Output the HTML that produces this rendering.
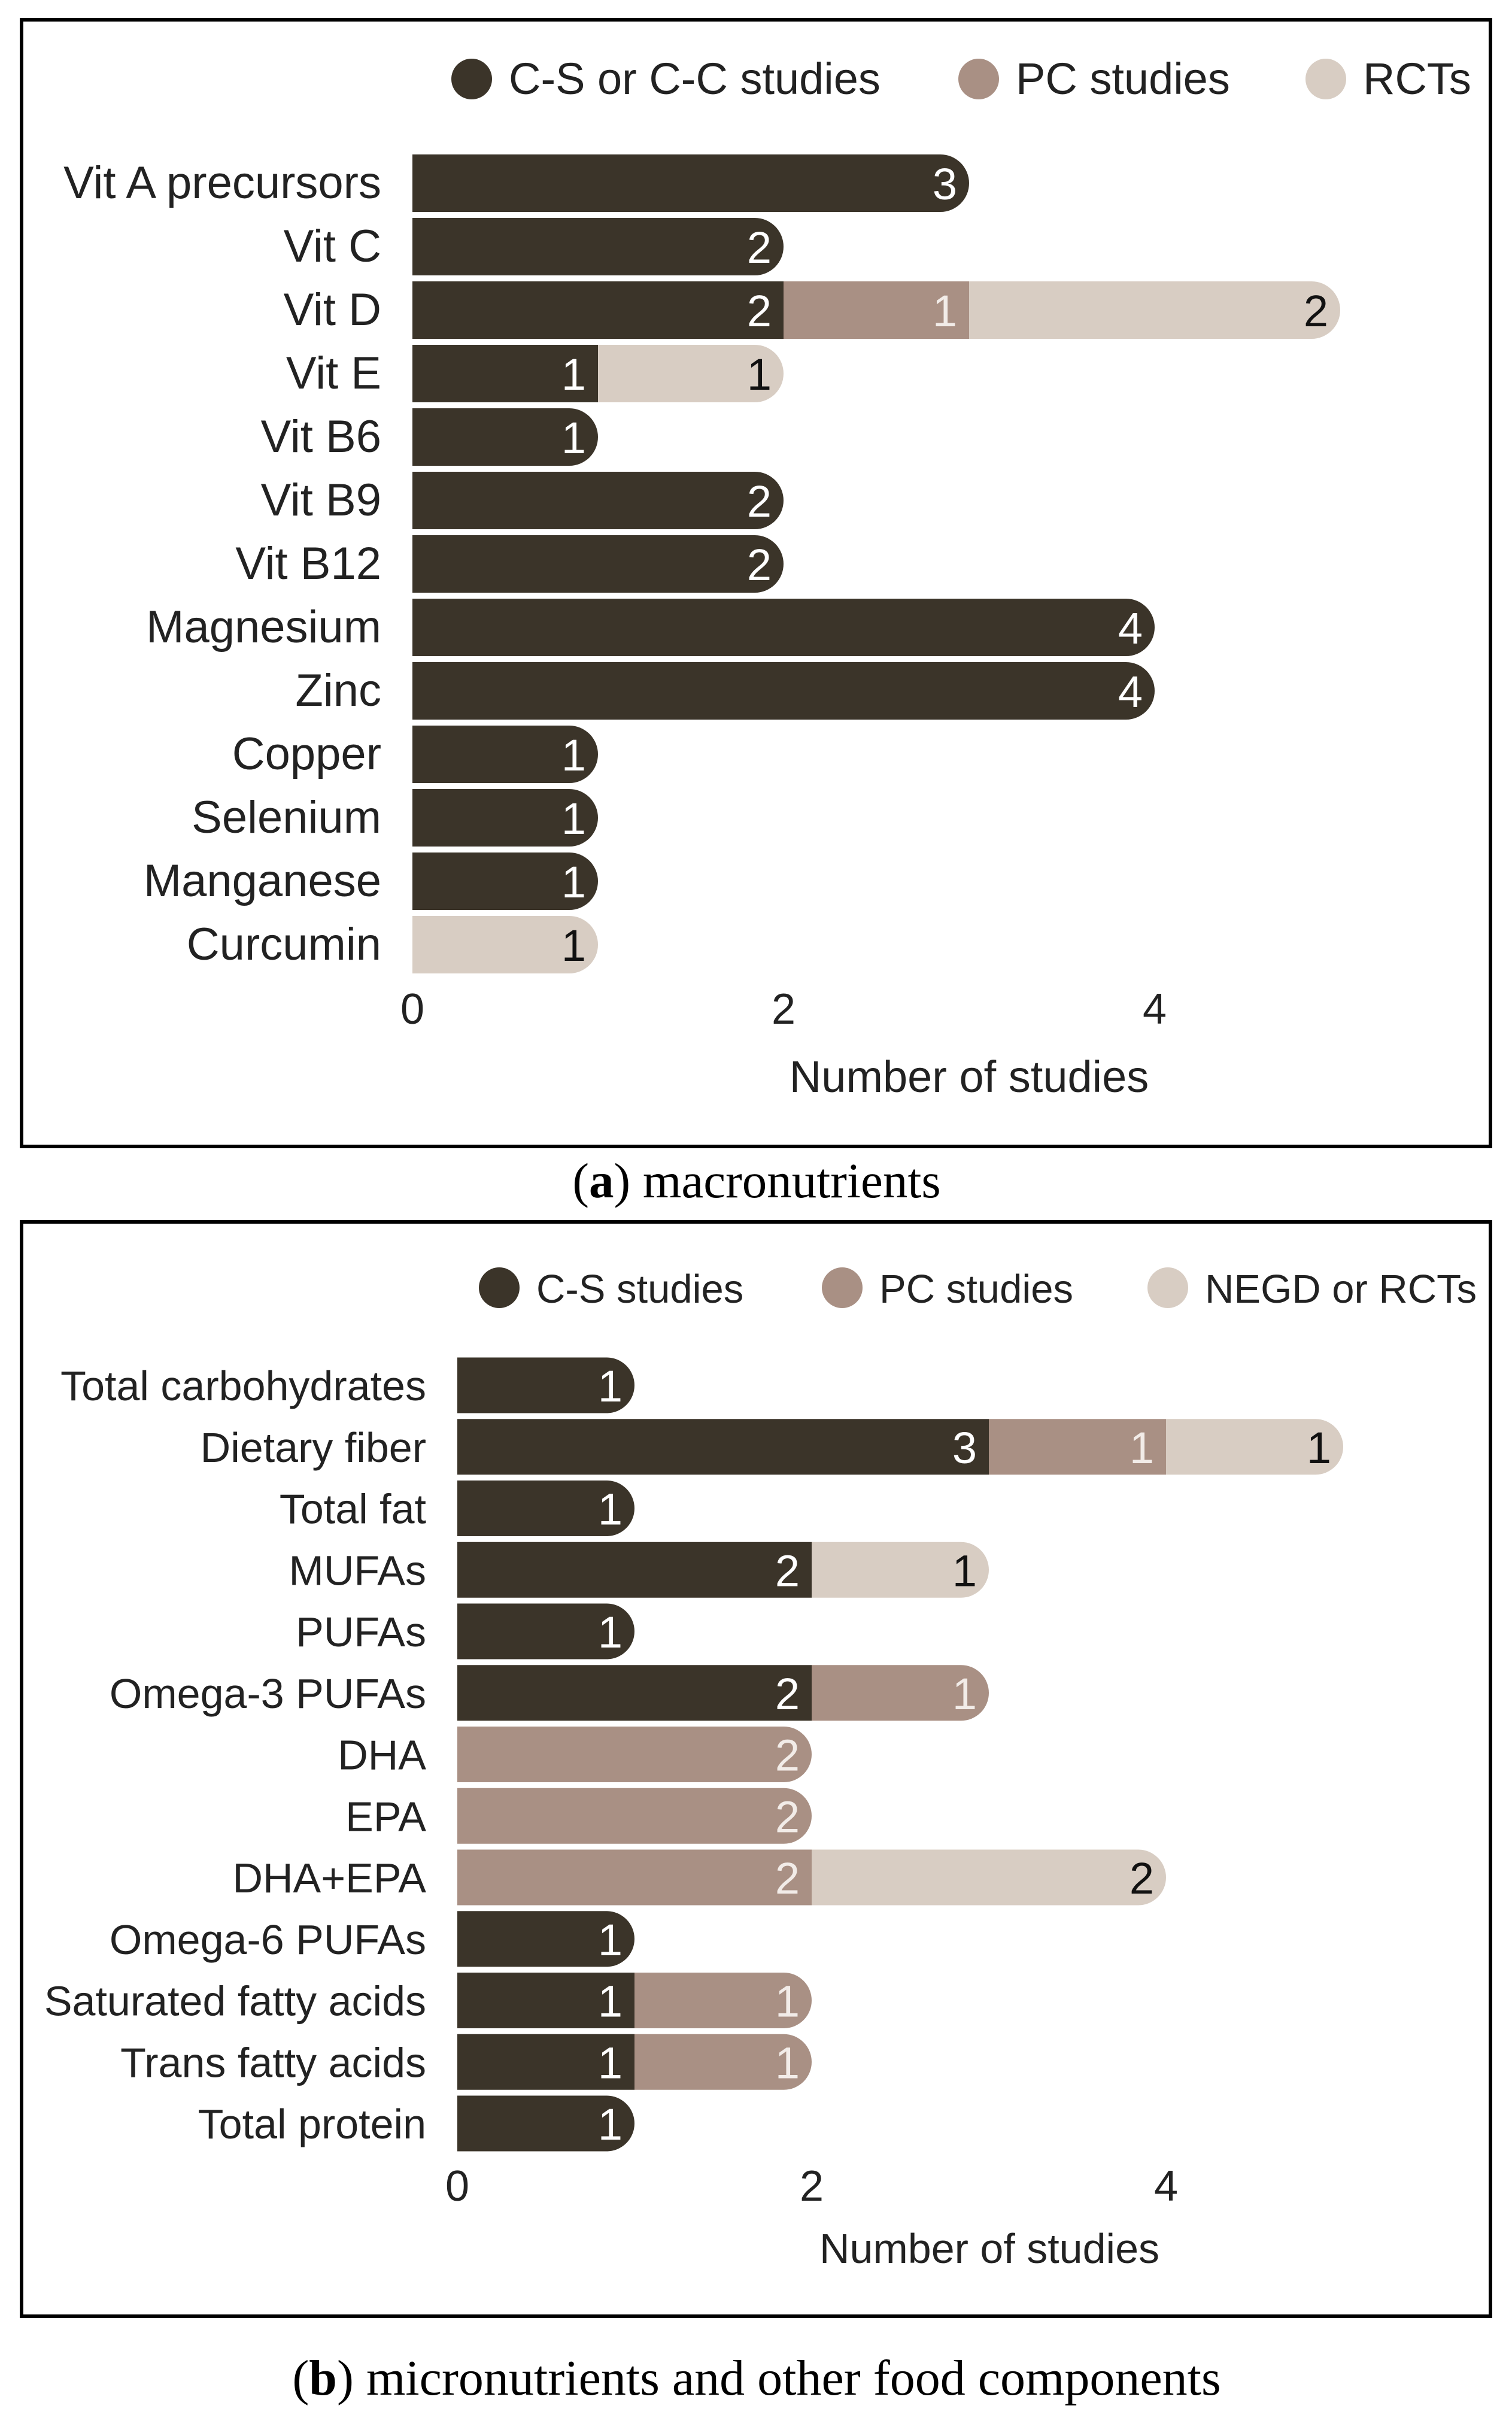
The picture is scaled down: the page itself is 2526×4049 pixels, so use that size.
<!DOCTYPE html>
<html><head><meta charset="utf-8"><style>
html,body{margin:0;padding:0;background:#fff;}
svg{display:block;}
text{font-family:"Liberation Sans",sans-serif;}
.cap{font-family:"Liberation Serif",serif;}
</style></head><body>
<svg id="chart" width="2526" height="4049" viewBox="0 0 2526 4049" xmlns="http://www.w3.org/2000/svg">
<rect x="36" y="33" width="2454" height="1882" fill="none" stroke="#000" stroke-width="6"/>
<rect x="36" y="2041" width="2454" height="1828" fill="none" stroke="#000" stroke-width="6"/>
<text class="cap" x="1264" y="2000" font-size="83" text-anchor="middle">(<tspan font-weight="bold">a</tspan>) macronutrients</text>
<text class="cap" x="1264" y="4000" font-size="84" text-anchor="middle">(<tspan font-weight="bold">b</tspan>) micronutrients and other food components</text>
<g id="ga"></g><g id="gb"></g>
</svg>
<script>
const catsA = ["Vit A precursors","Vit C","Vit D","Vit E","Vit B6","Vit B9","Vit B12","Magnesium","Zinc","Copper","Selenium","Manganese","Curcumin"];
const csA  = [3,2,2,1,1,2,2,4,4,1,1,1,0];
const pcA  = [0,0,1,0,0,0,0,0,0,0,0,0,0];
const rctA = [0,0,2,1,0,0,0,0,0,0,0,0,1];
const legendA = ["C-S or C-C studies","PC studies","RCTs"];
const catsB = ["Total carbohydrates","Dietary fiber","Total fat","MUFAs","PUFAs","Omega-3 PUFAs","DHA","EPA","DHA+EPA","Omega-6 PUFAs","Saturated fatty acids","Trans fatty acids","Total protein"];
const csB  = [1,3,1,2,1,2,0,0,0,1,1,1,1];
const pcB  = [0,1,0,0,0,1,2,2,2,0,1,1,0];
const rctB = [0,1,0,1,0,0,0,0,2,0,0,0,0];
const legendB = ["C-S studies","PC studies","NEGD or RCTs"];
const ticks = [0,2,4];
const COLORS = ["#3b3429","#a99084","#d8cdc3"];
const NUMCOL = ["#ffffff","#f2ece8","#111111"];
const NS = "http://www.w3.org/2000/svg";
function mk(g, tag, attrs, txt){const e=document.createElementNS(NS,tag);for(const k in attrs)e.setAttribute(k,attrs[k]);if(txt!==undefined)e.textContent=txt;g.appendChild(e);return e;}

function draw(gid, cats, series, legend, cfg){
  const g=document.getElementById(gid);
  const x = v => cfg.x0 + v*cfg.unit;
  const y = i => cfg.y0 + i*cfg.step;
  const h = cfg.bh;
  legend.forEach((l,k)=>{
    const c=mk(g,'circle',{cx:cfg.legX[k],cy:cfg.legY,r:34,fill:COLORS[k]});
    
    
    const t=mk(g,'text',{x:cfg.legX[k]+62,y:cfg.legY+25,'font-size':cfg.legFs,fill:'#222'},l);
    
    
  });
  cats.forEach((c,i)=>{
    const t=mk(g,'text',{x:cfg.labR,y:y(i)+25,'font-size':cfg.labFs,'text-anchor':'end',fill:'#222'},c);
    
    
    const vals=series.map(s=>s[i]);
    let last=-1; vals.forEach((v,k)=>{if(v>0)last=k;});
    let acc=0;
    vals.forEach((v,k)=>{
      if(v<=0)return;
      const x1=x(acc), x2=x(acc+v);
      let el;
      if(k===last){
        const r=h/2, top=y(i)-h/2, bot=y(i)+h/2;
        el=mk(g,'path',{d:`M${x1},${top} L${x2-r},${top} A${r},${r} 0 0 1 ${x2-r},${bot} L${x1},${bot} Z`,fill:COLORS[k]});
      } else {
        el=mk(g,'rect',{x:x1,y:y(i)-h/2,width:x2-x1,height:h,fill:COLORS[k]});
      }
      
      
      const nt=mk(g,'text',{x:x2-20,y:y(i)+27,'font-size':74,'text-anchor':'end',fill:NUMCOL[k]},String(v));
      
      
      acc+=v;
    });
  });
  ticks.forEach(tv=>{
    const t=mk(g,'text',{x:x(tv),y:cfg.tickY+26,'font-size':72,'text-anchor':'middle',fill:'#222'},String(tv));
    
    
  });
  const at=mk(g,'text',{x:cfg.titleX,y:cfg.titleY+26,'font-size':cfg.titleFs,'text-anchor':'middle',fill:'#222'},'Number of studies');
  
  
}
draw('ga',catsA,[csA,pcA,rctA],legendA,{x0:689,unit:310,y0:306,step:106,bh:96,labR:637,legX:[788,1635,2215],legY:132,tickY:1684,titleX:1619,titleY:1798,legFs:74,labFs:76,titleFs:74});
draw('gb',catsB,[csB,pcB,rctB],legendB,{x0:764,unit:296,y0:2314,step:102.75,bh:93,labR:712,legX:[834,1407,1951],legY:2151,tickY:3650,titleX:1653,titleY:3754,legFs:67,labFs:70,titleFs:70});
</script>
</body></html>
